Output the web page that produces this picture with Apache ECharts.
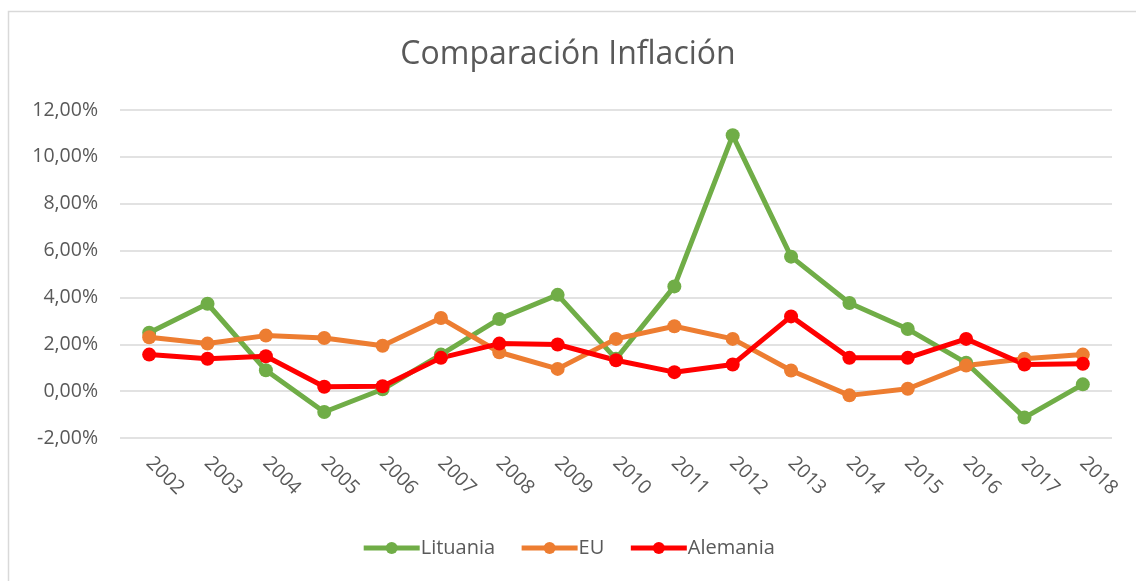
<!DOCTYPE html>
<html>
<head>
<meta charset="utf-8">
<script src="https://cdn.jsdelivr.net/npm/echarts@6/dist/echarts.min.js"></script>
<style>
  html, body { margin: 0; padding: 0; background: #fff; }
  #chart-container { width: 1136px; height: 581px; }
</style>
</head>
<body>
<div id="chart-container"></div>
<script>
var years = ['2002', '2003', '2004', '2005', '2006', '2007', '2008', '2009', '2010',
  '2011', '2012', '2013', '2014', '2015', '2016', '2017', '2018'];
var lituania = [2.49, 3.73, 0.89, -0.89, 0.08, 1.56, 3.08, 4.11, 1.38,
  4.47, 10.92, 5.74, 3.76, 2.65, 1.21, -1.13, 0.29];
var eu = [2.30, 2.03, 2.37, 2.27, 1.94, 3.12, 1.66, 0.95, 2.23,
  2.77, 2.23, 0.88, -0.18, 0.10, 1.09, 1.38, 1.56];
var alemania = [1.56, 1.38, 1.49, 0.19, 0.21, 1.42, 2.03, 1.99, 1.32,
  0.81, 1.14, 3.19, 1.42, 1.42, 2.23, 1.14, 1.17];
var yMin = -2, yMax = 12, yStep = 2;

var dom = document.getElementById('chart-container');
var myChart = echarts.init(dom, null, { renderer: 'canvas' });

var font = '"Open Sans", "Noto Sans", sans-serif';

function lineSeries(name, data, color) {
  return {
    name: name,
    type: 'line',
    data: data,
    symbol: 'circle',
    symbolSize: 14,
    lineStyle: { color: color, width: 5 },
    itemStyle: { color: color },
    z: 2
  };
}

var option = {
  animation: false,
  backgroundColor: '#fff',
  textStyle: { fontFamily: font },
  graphic: [{
    type: 'rect',
    shape: { x: 8.5, y: 11.5, width: 1140, height: 600 },
    style: { fill: 'none', stroke: '#d9d9d9', lineWidth: 1.5 },
    silent: true
  }],
  title: {
    text: 'Comparación Inflación',
    left: 'center',
    top: 34,
    textStyle: { fontFamily: font, fontSize: 32, fontWeight: 'normal', color: '#595959' }
  },
  legend: {
    bottom: 18,
    left: 'center',
    itemWidth: 56,
    itemHeight: 15,
    itemGap: 24,
    lineStyle: { width: 5 },
    textStyle: { fontFamily: font, fontSize: 20, color: '#595959', padding: [0, 0, 0, -4] },
    data: ['Lituania', 'EU', 'Alemania']
  },
  grid: { left: 120, right: 24, top: 110, bottom: 143 },
  xAxis: {
    type: 'category',
    data: years,
    boundaryGap: true,
    axisLine: { show: false },
    axisTick: { show: false },
    axisLabel: {
      rotate: -45,
      margin: 22,
      fontFamily: font,
      fontSize: 19.5,
      color: '#595959'
    }
  },
  yAxis: {
    type: 'value',
    min: yMin,
    max: yMax,
    interval: yStep,
    axisLine: { show: false },
    axisTick: { show: false },
    splitLine: { lineStyle: { color: '#d9d9d9', width: 1.5 } },
    axisLabel: {
      margin: 22,
      fontFamily: font,
      fontSize: 19.5,
      color: '#595959',
      formatter: function (v) { return v.toFixed(2).replace('.', ',') + '%'; }
    }
  },
  series: [
    lineSeries('Lituania', lituania, '#70AD47'),
    lineSeries('EU', eu, '#ED7D31'),
    lineSeries('Alemania', alemania, '#FF0000')
  ]
};

if (option && typeof option === 'object') {
  myChart.setOption(option);
}

window.addEventListener('resize', myChart.resize);
</script>
</body>
</html>
